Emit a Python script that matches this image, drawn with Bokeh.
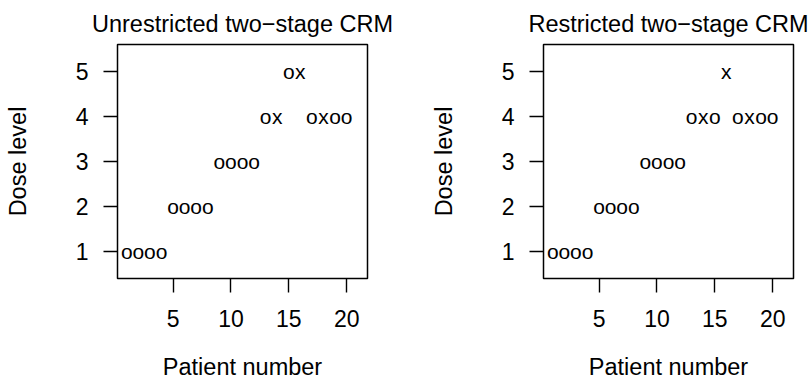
from bokeh.plotting import figure
from bokeh.layouts import row
from bokeh.models import FixedTicker, Range1d, ColumnDataSource
from bokeh.core.properties import value
from bokeh.embed import file_html
from bokeh.resources import INLINE

patients = list(range(1, 21))
unres_dose = [1, 1, 1, 1, 2, 2, 2, 2, 3, 3, 3, 3, 4, 4, 5, 5, 4, 4, 4, 4]
unres_tox = ["o", "o", "o", "o", "o", "o", "o", "o", "o", "o", "o", "o",
             "o", "x", "o", "x", "o", "x", "o", "o"]
res_dose = [1, 1, 1, 1, 2, 2, 2, 2, 3, 3, 3, 3, 4, 4, 4, 5, 4, 4, 4, 4]
res_tox = ["o", "o", "o", "o", "o", "o", "o", "o", "o", "o", "o", "o",
           "o", "x", "o", "x", "o", "x", "o", "o"]
x_ticks = [5, 10, 15, 20]
y_ticks = [1, 2, 3, 4, 5]
titles = ["Unrestricted two\u2212stage CRM", "Restricted two\u2212stage CRM"]
x_label = "Patient number"
y_label = "Dose level"

FONT = "Liberation Sans"


def panel(title, dose, tox, border_left, border_right):
    p = figure(frame_width=250, frame_height=234,
               min_border_left=border_left, min_border_right=border_right,
               min_border_top=44, min_border_bottom=105,
               x_range=Range1d(0.2, 21.8), y_range=Range1d(0.408, 5.592),
               output_backend="svg", toolbar_location=None, title=title)
    p.title.text_font = FONT
    p.title.text_font_size = "23.5px"
    p.title.text_font_style = "normal"
    p.title.text_color = "black"
    p.title.align = "center"
    p.title.standoff = 15
    p.outline_line_color = "black"
    p.outline_line_width = 1.5
    p.outline_line_alpha = 1
    p.grid.visible = False
    for ax, ticks in ((p.xaxis, x_ticks), (p.yaxis, y_ticks)):
        ax.ticker = FixedTicker(ticks=ticks)
        ax.axis_line_color = None
        ax.major_tick_out = 14
        ax.major_tick_in = 0
        ax.minor_tick_out = 0
        ax.minor_tick_in = 0
        ax.major_tick_line_color = "black"
        ax.major_tick_line_width = 1.4
        ax.major_label_text_font = FONT
        ax.major_label_text_font_size = "23px"
        ax.major_label_text_color = "black"
        ax.axis_label_text_font = FONT
        ax.axis_label_text_font_size = "23.5px"
        ax.axis_label_text_font_style = "normal"
        ax.axis_label_text_color = "black"
    p.xaxis.axis_label = x_label
    p.yaxis.axis_label = y_label
    p.xaxis.major_label_standoff = 17
    p.xaxis.axis_label_standoff = 24
    p.yaxis.major_label_standoff = 15
    p.yaxis.axis_label_standoff = 42
    p.yaxis.major_label_orientation = "horizontal"

    src = ColumnDataSource(dict(x=patients, y=dose, t=tox))
    p.text(x="x", y="y", text="t", source=src, text_align="center",
           text_baseline="middle", text_font=value(FONT),
           text_font_size="21px", text_color="black")
    return p


p1 = panel(titles[0], unres_dose, unres_tox, 117, 38)
p2 = panel(titles[1], res_dose, res_tox, 138, 18)
layout = row(p1, p2)

open("out.html", "w").write(file_html(layout, INLINE))
